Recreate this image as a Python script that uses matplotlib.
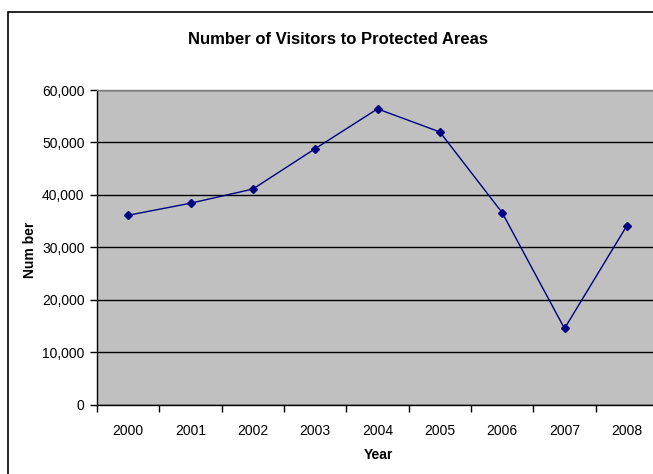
import matplotlib
matplotlib.use("Agg")
import matplotlib.pyplot as plt
from matplotlib.patches import Rectangle
from matplotlib.ticker import FuncFormatter, FixedLocator

years = ["2000", "2001", "2002", "2003", "2004", "2005", "2006", "2007", "2008"]
visitors = [36100, 38400, 41100, 48800, 56400, 52000, 36600, 14500, 34100]
yticks = [0, 10000, 20000, 30000, 40000, 50000, 60000]

plt.rcParams['font.family'] = ['Liberation Sans', 'DejaVu Sans']

W, H = 653, 474
fig = plt.figure(figsize=(W / 100, H / 100), dpi=100)
fig.patch.set_facecolor('white')

# chart border (cropped on right/bottom)
fig.patches.append(Rectangle((8 / W, -0.1), 1.2, 1 - 12 / H + 0.1, transform=fig.transFigure,
                             fill=False, edgecolor='black', linewidth=1.2))

left, right, top, bottom = 97, 658, 90, 404.5
ax = fig.add_axes([left / W, (H - bottom) / H, (right - left) / W, (bottom - top) / H])
ax.set_facecolor('#C0C0C0')

x = [i + 0.5 for i in range(len(years))]
ax.plot(x, visitors, color='#000080', linewidth=1.0, marker='D', markersize=4.5,
        markerfacecolor='#000080', markeredgecolor='#000080', zorder=3)

ax.set_xlim(0, len(years))
ax.set_ylim(0, 60000)
ax.set_yticks(yticks)
ax.yaxis.set_major_formatter(FuncFormatter(lambda v, p: f"{int(v):,}"))
ax.grid(axis='y', color='black', linewidth=1.0)
ax.set_axisbelow(True)

ax.xaxis.set_major_locator(FixedLocator(list(range(len(years) + 1))))
ax.xaxis.set_major_formatter(FuncFormatter(lambda v, p: ""))
ax.xaxis.set_minor_locator(FixedLocator(x))
ax.set_xticklabels(years, minor=True)
ax.tick_params(axis='x', which='major', direction='out', length=5, width=1, color='black')
ax.tick_params(axis='x', which='minor', length=0, pad=14, labelsize=10)
ax.tick_params(axis='y', direction='out', length=5, width=1, labelsize=10, pad=4)

for s in ['left', 'bottom']:
    ax.spines[s].set_color('black')
    ax.spines[s].set_linewidth(1.0)
ax.spines['top'].set_color('#808080')
ax.spines['top'].set_linewidth(1.0)
ax.spines['right'].set_color('#808080')

fig.text(338 / W, 1 - 40 / H, "Number of Visitors to Protected Areas", ha='center', va='center',
         fontsize=12, fontweight='bold')
fig.text(378 / W, 1 - 455 / H, "Year", ha='center', va='center', fontsize=10, fontweight='bold')
fig.text(30 / W, 1 - 250 / H, "Num ber", ha='center', va='center', fontsize=10,
         fontweight='bold', rotation=90)

fig.savefig("out.png", dpi=100)
